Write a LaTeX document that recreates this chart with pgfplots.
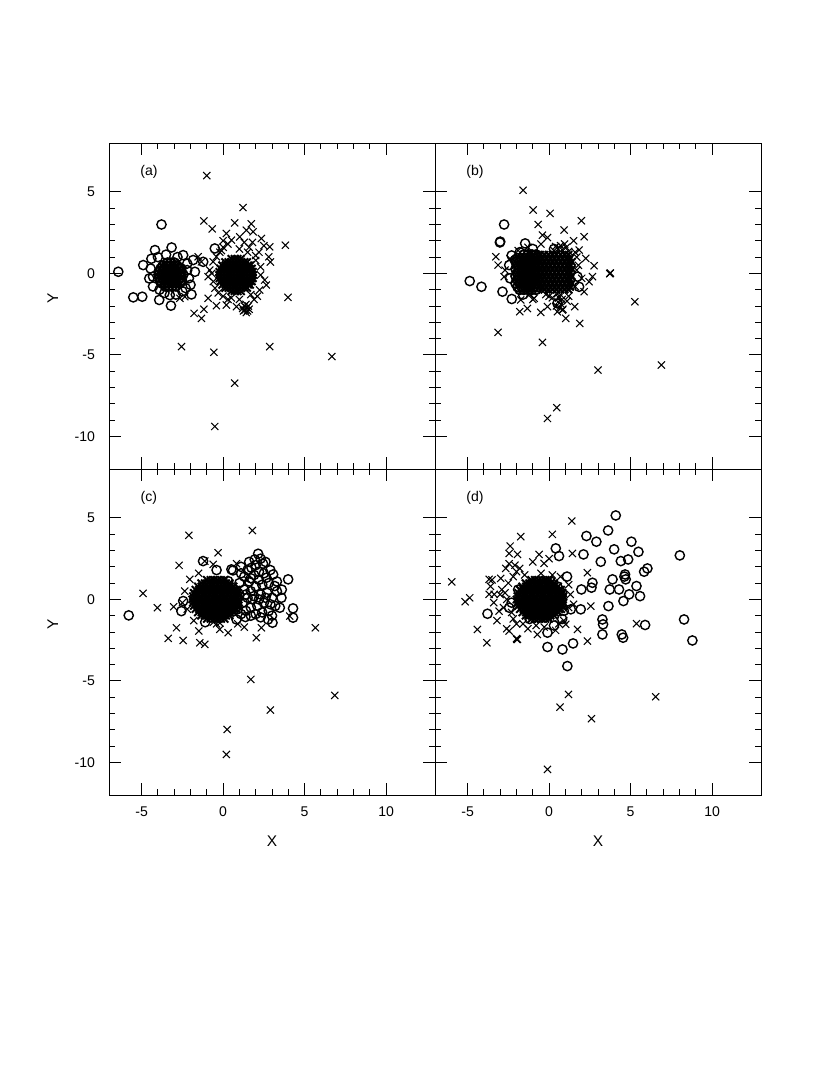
\documentclass[border=0pt]{standalone}
\usepackage{fontspec}
\setmainfont{Liberation Sans}
\usepackage{pgfplots}
\pgfplotsset{compat=1.18}

\pgfplotsset{
  panel/.style={scale only axis, width=8.15cm, height=8.15cm,
    xmin=-7, xmax=13, ymin=-12, ymax=8,
    xtick={-5,0,5,10}, ytick={-10,-5,0,5},
    minor x tick num=4, minor y tick num=4,
    tick align=inside, major tick length=0.3cm, minor tick length=0.15cm,
    axis line style={line width=0.7pt},
    every tick/.style={black, line width=0.6pt},
    tick label style={font=\fontsize{10}{12}\selectfont},
    label style={font=\fontsize{11}{13}\selectfont},
    xticklabel style={yshift=-5pt}, yticklabel style={xshift=-6.5pt},
    xticklabels={}, yticklabels={}},
  withx/.style={xticklabels={-5,0,5,10}, xlabel={X},
    xlabel style={at={(axis description cs:0.5,-0.141)}, anchor=center}},
  withy/.style={yticklabels={-10,-5,0,5}, ylabel={Y},
    ylabel style={at={(axis description cs:-0.172,0.525)}, anchor=center}},
  circ/.style={only marks, mark=o, mark size=3.3pt, line width=1pt, black},
  crs/.style={only marks, mark=x, mark size=3.6pt, line width=0.75pt, black},
  corecirc/.style={circ, line width=1.3pt},
  corecrs/.style={crs, line width=1.4pt},
}

\begin{document}
\begin{tikzpicture}
\path[use as bounding box] (0,0) rectangle (20.75,-26.875);

% ---- (a)
\begin{axis}[panel, withy, at={(2.725cm,-3.575cm)}, anchor=north west]
\addplot[circ] coordinates {
(-3.78,3.0) (-6.43,0.1) (-4.9,0.51) (-4.53,-0.31) (-5.51,-1.47) (-4.96,-1.43)
(-3.92,-1.63) (-3.27,-1.33) (-3.2,-1.98) (-1.94,-1.29) (-4.18,1.43) (-3.16,1.59)
(-2.45,1.12) (-1.84,0.82) (-1.73,0.1) (-0.51,1.53) (-1.22,0.71) (-4.4,0.9)
(-2.2,0.6) (-2.1,-0.3) (-2.3,-0.9) (-3.6,-1.2) (-4.3,-0.8) (-4.45,0.3)
(-3.5,1.15) (-2.8,1.0) (-2.0,-0.7) (-4.0,1.0) (-2.5,-1.1) (-2.9,-1.3)
(-4.3,-0.2) (-2.2,0.2) (-3.9,-1.0)};
\addplot[corecirc] coordinates {
(-3.42,0.65) (-3.2,0.65) (-2.98,0.65)
(-3.7,0.47) (-3.48,0.47) (-3.26,0.47) (-3.04,0.47) (-2.82,0.47)
(-3.83,0.29) (-3.61,0.29) (-3.39,0.29) (-3.17,0.29) (-2.95,0.29) (-2.73,0.29) (-2.57,0.29)
(-3.9,0.11) (-3.7,0.11) (-3.48,0.11) (-3.26,0.11) (-3.04,0.11) (-2.82,0.11) (-2.6,0.11)
(-3.95,-0.07) (-3.73,-0.07) (-3.51,-0.07) (-3.29,-0.07) (-3.07,-0.07) (-2.85,-0.07) (-2.63,-0.07) (-2.45,-0.07)
(-3.92,-0.25) (-3.7,-0.25) (-3.48,-0.25) (-3.26,-0.25) (-3.04,-0.25) (-2.82,-0.25) (-2.6,-0.25)
(-3.86,-0.43) (-3.64,-0.43) (-3.42,-0.43) (-3.2,-0.43) (-2.98,-0.43) (-2.76,-0.43) (-2.54,-0.43)
(-3.76,-0.61) (-3.54,-0.61) (-3.32,-0.61) (-3.1,-0.61) (-2.88,-0.61) (-2.64,-0.61)
(-3.55,-0.79) (-3.33,-0.79) (-3.11,-0.79) (-2.89,-0.79)};
\addplot[crs] coordinates {
(-1.0,6.0) (1.22,4.04) (-1.18,3.22) (-0.67,2.73) (0.71,3.1) (1.73,3.04)
(1.84,2.55) (2.35,2.14) (2.86,1.63) (3.82,1.73) (2.8,1.02) (3.98,-1.47)
(-2.55,-4.49) (-0.57,-4.84) (2.86,-4.49) (6.67,-5.1) (0.71,-6.73) (-0.51,-9.39)
(-1.78,-2.45) (-1.33,-2.76) (-1.18,-2.2) (-0.92,-1.53) (-0.41,-1.98) (0.2,-1.94)
(0.82,-2.04) (-0.92,-0.2) (-0.82,0.2) (-0.61,0.71) (-0.41,1.02) (-1.53,1.02)
(-1.33,0.71) (-2.65,-1.53) (-2.35,-1.43) (2.55,-0.41) (2.24,-1.02) (2.65,-0.71)
(1.02,2.24) (1.43,2.65) (0.2,2.45) (0.51,2.04) (1.6,1.6) (2.2,1.3) (0.0,1.6)
(-0.2,1.3) (2.3,0.4) (2.1,-1.4) (1.9,-1.6) (0.5,-1.5) (0.0,-1.4) (-0.5,-0.9)
(-0.6,-0.5) (1.8,1.9) (2.0,0.8)
(0.0,2.0) (0.3,1.8) (1.3,1.9) (1.0,1.5) (2.5,1.7) (-0.3,-1.2) (0.3,-1.6)
(1.0,-1.6) (1.7,-1.3) (2.3,-0.1) (2.0,1.1) (-0.7,0.0) (-0.1,1.4) (1.5,1.3) (2.9,0.7)
(1.3,-2.0) (1.45,-2.1) (1.35,-2.25) (1.5,-2.3) (1.2,-2.15) (1.4,-1.9) (1.55,-2.0)
(1.25,-2.3) (1.42,-2.4) (1.6,-2.2)};
\addplot[corecrs] coordinates {
(0.5,0.9) (0.7,0.9) (0.9,0.9) (1.1,0.9)
(0.12,0.7) (0.32,0.7) (0.52,0.7) (0.72,0.7) (0.92,0.7) (1.12,0.7) (1.32,0.7) (1.48,0.7)
(-0.06,0.5) (0.14,0.5) (0.34,0.5) (0.54,0.5) (0.74,0.5) (0.94,0.5) (1.14,0.5) (1.34,0.5) (1.54,0.5) (1.66,0.5)
(-0.17,0.3) (0.03,0.3) (0.23,0.3) (0.43,0.3) (0.63,0.3) (0.83,0.3) (1.03,0.3) (1.23,0.3) (1.43,0.3) (1.63,0.3) (1.77,0.3)
(-0.23,0.1) (-0.03,0.1) (0.17,0.1) (0.37,0.1) (0.57,0.1) (0.77,0.1) (0.97,0.1) (1.17,0.1) (1.37,0.1) (1.57,0.1) (1.77,0.1) (1.83,0.1)
(-0.25,-0.1) (-0.05,-0.1) (0.15,-0.1) (0.35,-0.1) (0.55,-0.1) (0.75,-0.1) (0.95,-0.1) (1.15,-0.1) (1.35,-0.1) (1.55,-0.1) (1.75,-0.1) (1.85,-0.1)
(-0.23,-0.3) (-0.03,-0.3) (0.17,-0.3) (0.37,-0.3) (0.57,-0.3) (0.77,-0.3) (0.97,-0.3) (1.17,-0.3) (1.37,-0.3) (1.57,-0.3) (1.77,-0.3) (1.83,-0.3)
(-0.17,-0.5) (0.03,-0.5) (0.23,-0.5) (0.43,-0.5) (0.63,-0.5) (0.83,-0.5) (1.03,-0.5) (1.23,-0.5) (1.43,-0.5) (1.63,-0.5) (1.77,-0.5)
(-0.06,-0.7) (0.14,-0.7) (0.34,-0.7) (0.54,-0.7) (0.74,-0.7) (0.94,-0.7) (1.14,-0.7) (1.34,-0.7) (1.54,-0.7) (1.66,-0.7)
(0.12,-0.9) (0.32,-0.9) (0.52,-0.9) (0.72,-0.9) (0.92,-0.9) (1.12,-0.9) (1.32,-0.9) (1.48,-0.9)
(0.5,-1.1) (0.7,-1.1) (0.9,-1.1) (1.1,-1.1)};
\node[font=\fontsize{10}{12}\selectfont] at (axis cs:-4.55,6.2) {(a)};
\end{axis}

% ---- (b)
\begin{axis}[panel, at={(10.875cm,-3.575cm)}, anchor=north west]
\addplot[circ] coordinates {
(-2.76,3.0) (-3.02,1.9) (-3.0,1.95) (-4.87,-0.47) (-4.15,-0.82) (-1.47,1.84)
(-2.45,0.51) (-2.86,-1.12) (-2.29,-1.57) (-2.09,0.82) (1.84,-0.82) (1.74,-0.2)
(0.51,-1.84) (-2.4,-0.3) (-2.3,1.1) (-1.8,1.3) (-1.0,1.5) (-1.6,-1.3) (0.3,1.5)};
\addplot[corecirc] coordinates {
(-1.55,1.15) (-1.3,1.15) (-1.05,1.15) (-0.8,1.15)
(-1.93,0.93) (-1.68,0.93) (-1.43,0.93) (-1.18,0.93) (-0.93,0.93) (-0.68,0.93)
(-2.05,0.71) (-1.8,0.71) (-1.55,0.71) (-1.3,0.71) (-1.05,0.71) (-0.8,0.71)
(-1.93,0.49) (-1.68,0.49) (-1.43,0.49) (-1.18,0.49) (-0.93,0.49) (-0.68,0.49)
(-2.05,0.27) (-1.8,0.27) (-1.55,0.27) (-1.3,0.27) (-1.05,0.27) (-0.8,0.27)
(-1.93,0.05) (-1.68,0.05) (-1.43,0.05) (-1.18,0.05) (-0.93,0.05) (-0.68,0.05)
(-2.05,-0.17) (-1.8,-0.17) (-1.55,-0.17) (-1.3,-0.17) (-1.05,-0.17) (-0.8,-0.17)
(-1.93,-0.39) (-1.68,-0.39) (-1.43,-0.39) (-1.18,-0.39) (-0.93,-0.39) (-0.68,-0.39)
(-2.05,-0.61) (-1.8,-0.61) (-1.55,-0.61) (-1.3,-0.61) (-1.05,-0.61) (-0.8,-0.61)
(-1.93,-0.83) (-1.68,-0.83) (-1.43,-0.83) (-1.18,-0.83) (-0.93,-0.83) (-0.68,-0.83)
(-1.8,-1.0) (-1.55,-1.0) (-1.3,-1.0) (-1.05,-1.0) (-0.8,-1.0)};
\addplot[crs] coordinates {
(-1.6,5.1) (-0.98,3.89) (0.06,3.68) (-0.67,3.0) (1.98,3.23) (0.92,2.66)
(2.15,2.25) (-0.41,2.35) (-0.1,2.2) (-3.27,1.02) (-3.13,0.51) (-2.76,-0.2)
(2.76,0.47) (2.66,-0.2) (2.45,-0.51) (2.15,-1.12) (2.25,0.92) (1.84,1.43)
(3.74,0.0) (3.76,0.02) (3.72,-0.02) (5.26,-1.74) (-3.13,-3.62) (-0.41,-4.23)
(3.0,-5.93) (6.89,-5.62) (0.47,-8.24) (-0.1,-8.9) (-1.8,-2.35) (-1.33,-2.15)
(-0.51,-2.39) (-0.1,-2.04) (0.51,-2.35) (0.82,-2.25) (1.02,-2.76) (1.57,-2.04)
(1.88,-3.07) (-0.92,-1.53) (-1.74,-1.63) (-1.2,-1.3) (0.0,-1.4) (1.2,-1.4)
(1.8,0.5) (1.7,1.0) (-1.3,1.6) (-0.5,1.8) (1.5,2.0) (-2.7,0.2)
(0.3,1.4) (0.55,1.5) (0.8,1.45) (1.05,1.6) (0.7,1.7) (0.4,1.65) (1.2,1.35) (0.95,1.8)
(0.5,-1.25) (0.7,-1.3) (0.6,-1.5) (0.8,-1.6) (0.55,-1.75) (0.75,-1.9) (0.65,-2.1)
(0.85,-2.2) (0.45,-2.0)
(-2.4,0.9) (-1.9,1.4) (1.6,-0.8) (1.7,0.2) (1.6,1.3) (-0.2,-1.3) (0.2,-1.5)
(1.1,-1.7) (-1.0,-1.6) (2.0,-0.3)};
\addplot[corecrs] coordinates {
(-0.55,1.15) (-0.3,1.15) (-0.05,1.15) (0.2,1.15) (0.45,1.15) (0.7,1.15) (0.95,1.15) (1.2,1.15)
(-0.43,0.93) (-0.18,0.93) (0.07,0.93) (0.32,0.93) (0.57,0.93) (0.82,0.93) (1.07,0.93) (1.3,0.93)
(-0.55,0.71) (-0.3,0.71) (-0.05,0.71) (0.2,0.71) (0.45,0.71) (0.7,0.71) (0.95,0.71) (1.2,0.71) (1.4,0.71)
(-0.43,0.49) (-0.18,0.49) (0.07,0.49) (0.32,0.49) (0.57,0.49) (0.82,0.49) (1.07,0.49) (1.3,0.49)
(-0.55,0.27) (-0.3,0.27) (-0.05,0.27) (0.2,0.27) (0.45,0.27) (0.7,0.27) (0.95,0.27) (1.2,0.27) (1.4,0.27)
(-0.43,0.05) (-0.18,0.05) (0.07,0.05) (0.32,0.05) (0.57,0.05) (0.82,0.05) (1.07,0.05) (1.3,0.05)
(-0.55,-0.17) (-0.3,-0.17) (-0.05,-0.17) (0.2,-0.17) (0.45,-0.17) (0.7,-0.17) (0.95,-0.17) (1.2,-0.17) (1.4,-0.17)
(-0.43,-0.39) (-0.18,-0.39) (0.07,-0.39) (0.32,-0.39) (0.57,-0.39) (0.82,-0.39) (1.07,-0.39) (1.3,-0.39)
(-0.55,-0.61) (-0.3,-0.61) (-0.05,-0.61) (0.2,-0.61) (0.45,-0.61) (0.7,-0.61) (0.95,-0.61) (1.2,-0.61) (1.4,-0.61)
(-0.43,-0.83) (-0.18,-0.83) (0.07,-0.83) (0.32,-0.83) (0.57,-0.83) (0.82,-0.83) (1.07,-0.83) (1.3,-0.83)
(-0.3,-1.0) (-0.05,-1.0) (0.2,-1.0) (0.45,-1.0) (0.7,-1.0) (0.95,-1.0) (1.2,-1.0)};
\node[font=\fontsize{10}{12}\selectfont] at (axis cs:-4.55,6.2) {(b)};
\end{axis}

% ---- (c)
\begin{axis}[panel, withx, withy, at={(2.725cm,-11.725cm)}, anchor=north west]
\addplot[crs] coordinates {
(1.8,4.23) (-2.1,3.93) (-0.31,2.86) (-2.7,2.09) (-4.91,0.37) (-4.03,-0.51)
(-3.03,-0.45) (-2.86,-1.74) (-3.37,-2.39) (-2.45,-2.52) (-1.49,-1.94) (-1.43,-2.66)
(-1.12,-2.76) (0.31,-2.04) (-0.2,-1.84) (2.04,-2.35) (2.35,-1.74) (5.66,-1.74)
(1.7,-4.91) (6.85,-5.89) (2.9,-6.79) (0.25,-7.98) (0.2,-9.51) (0.82,2.19)
(-2.04,1.23) (-2.35,0.51) (-0.61,2.15) (-1.12,2.35) (4.09,-1.02) (-1.5,1.6)
(-2.2,-0.6) (-1.8,-1.3) (0.9,-1.5) (1.5,1.2) (-2.5,-0.2) (1.3,-1.7)
(-0.6,-1.4) (-0.4,-1.5) (-0.2,-1.45)};
\addplot[corecrs] coordinates {
(-1.0,1.2) (-0.78,1.2) (-0.56,1.2) (-0.34,1.2) (-0.12,1.2) (0.1,1.2)
(-1.35,1.0) (-1.13,1.0) (-0.91,1.0) (-0.69,1.0) (-0.47,1.0) (-0.25,1.0) (-0.03,1.0) (0.19,1.0) (0.41,1.0)
(-1.55,0.8) (-1.33,0.8) (-1.11,0.8) (-0.89,0.8) (-0.67,0.8) (-0.45,0.8) (-0.23,0.8) (-0.01,0.8) (0.21,0.8) (0.43,0.8) (0.65,0.8)
(-1.7,0.6) (-1.48,0.6) (-1.26,0.6) (-1.04,0.6) (-0.82,0.6) (-0.6,0.6) (-0.38,0.6) (-0.16,0.6) (0.06,0.6) (0.28,0.6) (0.5,0.6) (0.72,0.6) (0.84,0.6)
(-1.8,0.4) (-1.58,0.4) (-1.36,0.4) (-1.14,0.4) (-0.92,0.4) (-0.7,0.4) (-0.48,0.4) (-0.26,0.4) (-0.04,0.4) (0.18,0.4) (0.4,0.4) (0.62,0.4) (0.84,0.4) (0.93,0.4)
(-1.85,0.2) (-1.63,0.2) (-1.41,0.2) (-1.19,0.2) (-0.97,0.2) (-0.75,0.2) (-0.53,0.2) (-0.31,0.2) (-0.09,0.2) (0.13,0.2) (0.35,0.2) (0.57,0.2) (0.79,0.2) (0.98,0.2)
(-1.9,0.0) (-1.68,0.0) (-1.46,0.0) (-1.24,0.0) (-1.02,0.0) (-0.8,0.0) (-0.58,0.0) (-0.36,0.0) (-0.14,0.0) (0.08,0.0) (0.3,0.0) (0.52,0.0) (0.74,0.0) (0.96,0.0)
(-1.85,-0.2) (-1.63,-0.2) (-1.41,-0.2) (-1.19,-0.2) (-0.97,-0.2) (-0.75,-0.2) (-0.53,-0.2) (-0.31,-0.2) (-0.09,-0.2) (0.13,-0.2) (0.35,-0.2) (0.57,-0.2) (0.79,-0.2) (0.98,-0.2)
(-1.8,-0.4) (-1.58,-0.4) (-1.36,-0.4) (-1.14,-0.4) (-0.92,-0.4) (-0.7,-0.4) (-0.48,-0.4) (-0.26,-0.4) (-0.04,-0.4) (0.18,-0.4) (0.4,-0.4) (0.62,-0.4) (0.84,-0.4) (0.93,-0.4)
(-1.7,-0.6) (-1.48,-0.6) (-1.26,-0.6) (-1.04,-0.6) (-0.82,-0.6) (-0.6,-0.6) (-0.38,-0.6) (-0.16,-0.6) (0.06,-0.6) (0.28,-0.6) (0.5,-0.6) (0.72,-0.6) (0.84,-0.6)
(-1.55,-0.8) (-1.33,-0.8) (-1.11,-0.8) (-0.89,-0.8) (-0.67,-0.8) (-0.45,-0.8) (-0.23,-0.8) (-0.01,-0.8) (0.21,-0.8) (0.43,-0.8) (0.65,-0.8)
(-1.35,-1.0) (-1.13,-1.0) (-0.91,-1.0) (-0.69,-1.0) (-0.47,-1.0) (-0.25,-1.0) (-0.03,-1.0) (0.19,-1.0) (0.41,-1.0)
(-1.0,-1.2) (-0.78,-1.2) (-0.56,-1.2) (-0.34,-1.2) (-0.12,-1.2) (0.1,-1.2)};
\addplot[circ] coordinates {
(-5.79,-0.98) (-1.23,2.35) (2.15,2.8) (1.94,2.45) (2.45,2.19) (1.74,1.94)
(0.61,1.78) (3.99,1.23) (3.07,1.53) (2.66,1.33) (3.17,0.82) (3.58,0.1)
(3.48,-0.51) (4.29,-0.55) (4.29,-1.12) (3.03,-1.43) (2.76,-1.23) (1.37,-1.08)
(0.82,-1.23) (-2.45,-0.1) (-2.56,-0.72) (0.31,1.12) (0.51,1.84)
(1.0,1.0) (1.3,1.4) (1.6,1.1) (1.9,1.5) (2.2,1.7) (2.5,1.6) (2.8,1.0) (2.4,0.9)
(2.0,0.8) (1.7,0.5) (1.3,0.6) (1.0,0.3) (1.2,-0.2) (1.5,0.1) (1.9,0.2) (2.3,0.3)
(2.7,0.4) (3.0,0.1) (2.9,-0.3) (2.5,-0.2) (2.1,-0.4) (1.7,-0.5) (1.4,-0.7)
(2.0,-0.9) (2.4,-0.8) (2.8,-0.7) (3.2,-0.4) (3.3,0.5) (2.6,2.3) (2.0,2.1)
(1.5,1.8) (1.1,2.0) (0.9,-0.6) (0.7,0.6) (-1.1,-1.4) (-0.4,1.8)
(1.1,1.6) (1.6,2.3) (2.3,2.5) (2.9,1.8) (3.3,1.1) (3.6,0.6) (3.0,-1.0) (2.3,-1.1)
(1.7,-1.0) (1.1,-0.9) (1.8,0.0) (2.2,0.0) (2.6,0.1) (1.4,0.3) (2.2,1.2) (1.7,1.3)};
\node[font=\fontsize{10}{12}\selectfont] at (axis cs:-4.55,6.2) {(c)};
\end{axis}

% ---- (d)
\begin{axis}[panel, withx, at={(10.875cm,-11.725cm)}, anchor=north west]
\addplot[crs] coordinates {
(-5.97,1.08) (-5.15,-0.14) (-4.87,0.1) (-4.4,-1.84) (-3.82,-2.66) (-3.68,1.23)
(-2.97,1.29) (-3.68,0.31) (-3.37,0.31) (-3.07,-0.72) (-2.39,3.27) (-2.45,2.82)
(-1.94,2.76) (-1.74,3.85) (-2.45,2.19) (-2.66,1.9) (-2.0,1.7) (-0.61,2.76)
(-0.31,2.21) (0.2,3.99) (1.43,2.82) (1.39,4.81) (2.35,1.64) (2.56,-0.41)
(1.74,-1.84) (2.35,-2.56) (-1.98,-2.45) (-1.94,-2.45) (-2.45,-1.94) (-0.72,-2.15)
(1.02,-1.53) (5.36,-1.49) (1.19,-5.83) (6.54,-5.97) (0.67,-6.61) (2.6,-7.32)
(-0.1,-10.43) (-2.0,-1.5) (-2.5,1.0) (-2.3,-0.8) (1.2,0.9) (1.5,-0.3)
(-1.5,1.5) (0.2,1.5) (-0.8,-1.6) (0.9,-1.3) (-2.7,0.4) (-3.4,-0.2)
(-3.6,0.8) (-3.2,-1.3) (-2.1,2.1) (-1.0,2.3) (0.0,2.5) (-3.0,0.3)
(-1.3,-1.8) (-0.3,-1.7) (0.4,-1.9)
(-2.9,0.6) (-2.6,0.0) (-2.8,-0.5) (-2.2,1.4) (-1.8,1.9) (-0.5,1.6) (0.7,1.4)
(1.3,0.3) (1.2,-0.5) (0.6,-1.5) (-1.6,-1.5) (-2.2,-1.2) (-3.5,1.2) (-2.6,-1.8)
(-2.0,-2.4)};
\addplot[corecrs] coordinates {
(-1.1,1.2) (-0.88,1.2) (-0.66,1.2) (-0.44,1.2) (-0.22,1.2) (0.0,1.2)
(-1.45,1.0) (-1.23,1.0) (-1.01,1.0) (-0.79,1.0) (-0.57,1.0) (-0.35,1.0) (-0.13,1.0) (0.09,1.0) (0.31,1.0)
(-1.65,0.8) (-1.43,0.8) (-1.21,0.8) (-0.99,0.8) (-0.77,0.8) (-0.55,0.8) (-0.33,0.8) (-0.11,0.8) (0.11,0.8) (0.33,0.8) (0.55,0.8)
(-1.8,0.6) (-1.58,0.6) (-1.36,0.6) (-1.14,0.6) (-0.92,0.6) (-0.7,0.6) (-0.48,0.6) (-0.26,0.6) (-0.04,0.6) (0.18,0.6) (0.4,0.6) (0.62,0.6) (0.74,0.6)
(-1.9,0.4) (-1.68,0.4) (-1.46,0.4) (-1.24,0.4) (-1.02,0.4) (-0.8,0.4) (-0.58,0.4) (-0.36,0.4) (-0.14,0.4) (0.08,0.4) (0.3,0.4) (0.52,0.4) (0.74,0.4) (0.83,0.4)
(-1.95,0.2) (-1.73,0.2) (-1.51,0.2) (-1.29,0.2) (-1.07,0.2) (-0.85,0.2) (-0.63,0.2) (-0.41,0.2) (-0.19,0.2) (0.03,0.2) (0.25,0.2) (0.47,0.2) (0.69,0.2) (0.88,0.2)
(-2.0,0.0) (-1.78,0.0) (-1.56,0.0) (-1.34,0.0) (-1.12,0.0) (-0.9,0.0) (-0.68,0.0) (-0.46,0.0) (-0.24,0.0) (-0.02,0.0) (0.2,0.0) (0.42,0.0) (0.64,0.0) (0.86,0.0)
(-1.95,-0.2) (-1.73,-0.2) (-1.51,-0.2) (-1.29,-0.2) (-1.07,-0.2) (-0.85,-0.2) (-0.63,-0.2) (-0.41,-0.2) (-0.19,-0.2) (0.03,-0.2) (0.25,-0.2) (0.47,-0.2) (0.69,-0.2) (0.88,-0.2)
(-1.9,-0.4) (-1.68,-0.4) (-1.46,-0.4) (-1.24,-0.4) (-1.02,-0.4) (-0.8,-0.4) (-0.58,-0.4) (-0.36,-0.4) (-0.14,-0.4) (0.08,-0.4) (0.3,-0.4) (0.52,-0.4) (0.74,-0.4) (0.83,-0.4)
(-1.8,-0.6) (-1.58,-0.6) (-1.36,-0.6) (-1.14,-0.6) (-0.92,-0.6) (-0.7,-0.6) (-0.48,-0.6) (-0.26,-0.6) (-0.04,-0.6) (0.18,-0.6) (0.4,-0.6) (0.62,-0.6) (0.74,-0.6)
(-1.65,-0.8) (-1.43,-0.8) (-1.21,-0.8) (-0.99,-0.8) (-0.77,-0.8) (-0.55,-0.8) (-0.33,-0.8) (-0.11,-0.8) (0.11,-0.8) (0.33,-0.8) (0.55,-0.8)
(-1.45,-1.0) (-1.23,-1.0) (-1.01,-1.0) (-0.79,-1.0) (-0.57,-1.0) (-0.35,-1.0) (-0.13,-1.0) (0.09,-1.0) (0.31,-1.0)
(-1.1,-1.2) (-0.88,-1.2) (-0.66,-1.2) (-0.44,-1.2) (-0.22,-1.2) (0.0,-1.2)};
\addplot[circ] coordinates {
(4.09,5.15) (3.62,4.23) (2.29,3.89) (2.9,3.54) (5.05,3.54) (5.48,2.92)
(3.99,3.07) (0.41,3.13) (0.61,2.66) (2.11,2.76) (3.17,2.31) (4.4,2.35)
(4.85,2.45) (8.02,2.7) (6.03,1.9) (5.83,1.7) (4.66,1.53) (4.7,1.23) (4.62,1.4)
(3.89,1.23) (2.66,1.02) (2.6,0.72) (1.98,0.61) (3.72,0.61) (4.29,0.61)
(5.36,0.82) (5.58,0.2) (4.56,-0.1) (4.91,0.31) (3.64,-0.41) (1.94,-0.61)
(1.33,-0.61) (3.27,-1.23) (3.31,-1.53) (5.89,-1.57) (8.28,-1.23) (8.79,-2.52)
(3.27,-2.15) (4.46,-2.15) (4.54,-2.35) (1.47,-2.7) (0.82,-3.07) (-0.1,-2.92)
(1.12,-4.09) (-3.78,-0.88) (-2.45,-0.51) (-0.1,-2.04)
(-0.3,0.9) (0.1,1.1) (0.5,0.8) (0.8,0.4) (0.6,-0.2) (0.2,-0.6) (-0.2,-0.9)
(0.9,-0.7) (-0.6,-1.1) (-1.0,0.7) (-1.5,-0.5) (-1.9,0.6) (-2.3,-0.2) (-1.2,-1.2)
(0.3,0.3) (-0.7,0.2) (1.1,1.4) (0.3,-1.6) (0.8,-1.2)};
\node[font=\fontsize{10}{12}\selectfont] at (axis cs:-4.55,6.2) {(d)};
\end{axis}
\end{tikzpicture}
\end{document}
